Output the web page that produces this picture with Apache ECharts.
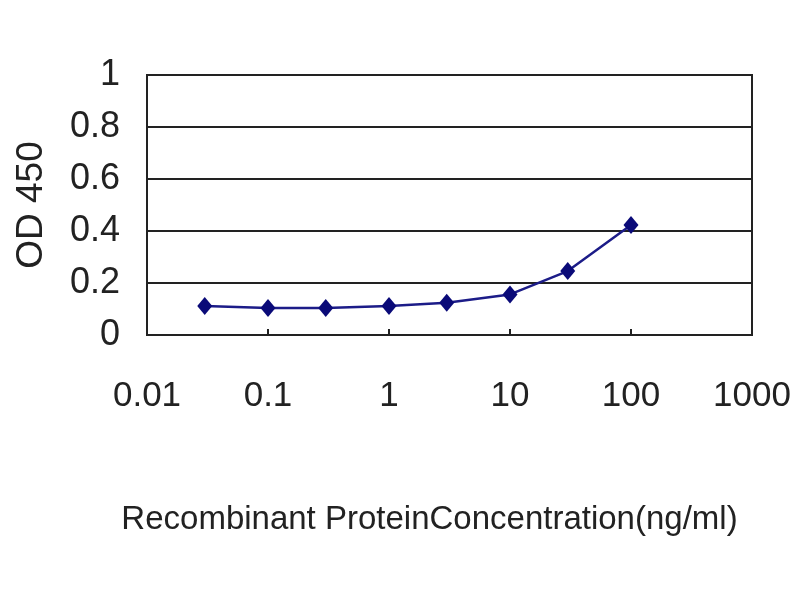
<!DOCTYPE html>
<html><head><meta charset="utf-8">
<script src="https://cdn.jsdelivr.net/npm/echarts@6/dist/echarts.min.js"></script>
<style>html,body{margin:0;padding:0;background:#fff}#c{width:800px;height:600px}</style>
</head><body><div id="c"></div>
<script>
const concentrations = [0.03, 0.1, 0.3, 1, 3, 10, 30, 100];
const od450 = [0.112, 0.104, 0.104, 0.112, 0.124, 0.156, 0.246, 0.423];
const xTickLabels = ['0.01', '0.1', '1', '10', '100', '1000'];
const yTickLabels = ['0', '0.2', '0.4', '0.6', '0.8', '1'];
const xTitle = 'Recombinant ProteinConcentration(ng/ml)';
const yTitle = 'OD 450';

const font = '"Liberation Sans", Arial, sans-serif';
const chart = echarts.init(document.getElementById('c'), null, {renderer: 'canvas'});
chart.setOption({
  animation: false,
  backgroundColor: '#fff',
  grid: {left: 147, right: 48, top: 75, bottom: 265, containLabel: false, outerBoundsMode: 'none',
         show: true, borderColor: '#222', borderWidth: 2, backgroundColor: 'transparent'},
  xAxis: {
    type: 'log', logBase: 10, min: 0.01, max: 1000,
    name: xTitle, nameLocation: 'middle', nameGap: 168,
    nameTextStyle: {fontFamily: font, fontSize: 33, color: '#222', padding: [0, 40, 0, 0]},
    axisLine: {show: true, lineStyle: {color: '#222', width: 2}},
    axisTick: {show: true, inside: true, length: 6, lineStyle: {color: '#222', width: 2}},
    splitLine: {show: false},
    axisLabel: {
      fontFamily: font, fontSize: 35, color: '#222', margin: 44,
      formatter: v => xTickLabels[Math.round(Math.log10(v)) + 2]
    }
  },
  yAxis: {
    type: 'value', min: 0, max: 1, interval: 0.2,
    name: yTitle, nameLocation: 'middle', nameGap: 97, nameRotate: 90,
    nameTextStyle: {fontFamily: font, fontSize: 37, color: '#222'},
    axisLine: {show: true, lineStyle: {color: '#222', width: 2}},
    axisTick: {show: false},
    splitLine: {show: true, lineStyle: {color: '#222', width: 2}},
    axisLabel: {
      fontFamily: font, fontSize: 36, color: '#222', margin: 27,
      formatter: v => yTickLabels[Math.round(v * 5)]
    }
  },
  series: [{
    type: 'line',
    data: concentrations.map((c, i) => [c, od450[i]]),
    symbol: 'diamond', symbolSize: [15, 18],
    lineStyle: {color: '#1c1c88', width: 2.5},
    itemStyle: {color: '#0a0a78'}
  }]
});
</script></body></html>
